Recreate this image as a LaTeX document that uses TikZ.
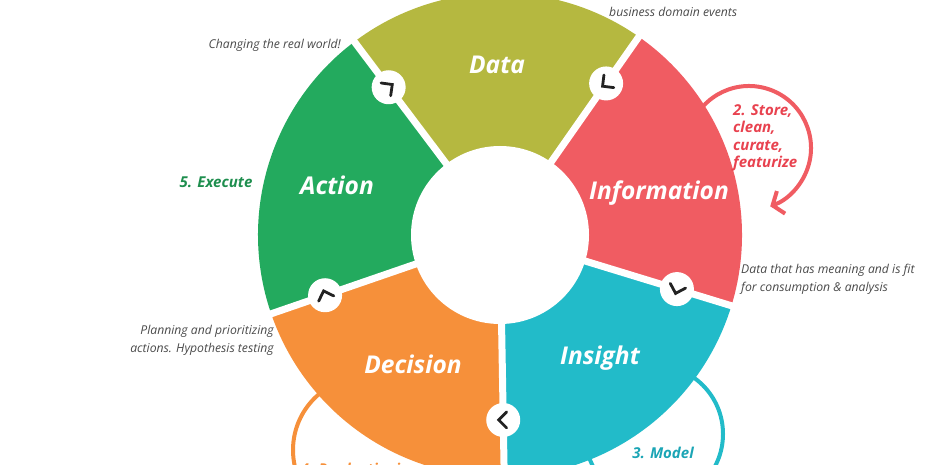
\documentclass[tikz,border=0pt]{standalone}
\usepackage{fontspec}
\setmainfont{Open Sans}
\usetikzlibrary{arrows.meta,calc}
\definecolor{cData}{HTML}{B5B840}
\definecolor{cInfo}{HTML}{F05C62}
\definecolor{cIns}{HTML}{22BBC9}
\definecolor{cDec}{HTML}{F6903A}
\definecolor{cAct}{HTML}{23AA5E}
\definecolor{cExec}{HTML}{1E8E4E}
\definecolor{cRed}{HTML}{E8424F}
\definecolor{cTeal}{HTML}{1BA5B5}
\definecolor{cGray}{HTML}{4A4A4A}
\definecolor{cChev}{HTML}{222222}
\tikzset{
  seglabel/.style={text=white,font=\fontsize{24.5}{28}\selectfont\bfseries\itshape},
  note/.style={text=cGray,font=\fontsize{12.2}{18}\selectfont\itshape,inner sep=0pt},
  steplabel/.style={font=\fontsize{15}{17.5}\selectfont\bfseries\itshape,inner sep=0pt},
  loopline/.style={line width=4pt},
  badge/.style={circle,fill=white,minimum size=34pt,inner sep=0pt},
  chev/.style={draw=cChev,line width=2.8pt,line cap=round,line join=miter}
}
\newcommand{\chevron}[2]{% #1 position angle, #2 pointing direction
  \begin{scope}[shift={($(C)+(#1:185)$)},rotate=#2]
    \draw[chev] (-3.5,8) -- (4.5,0) -- (-3.5,-8);
  \end{scope}}
\begin{document}
\begin{tikzpicture}[x=1pt,y=1pt]
\useasboundingbox (0,0) rectangle (931,-465);
\coordinate (C) at (500,-235);
% loops (behind segments)
\draw[loopline,cIns] (654,-434) circle[radius=69];
\draw[loopline,cDec] (366,-450) circle[radius=73];
\draw[loopline,cInfo,-{Straight Barb[length=9pt,width=24pt]}] (749,-148) ++(160:62) arc[start angle=160,end angle=-70,radius=62];
% segments
\fill[cData] (C) -- ++(55:242) arc[start angle=55,end angle=127,radius=242] -- cycle;
\fill[cInfo] (C) -- ++(-17:242) arc[start angle=-17,end angle=55,radius=242] -- cycle;
\fill[cIns] (C) -- ++(-89:242) arc[start angle=-89,end angle=-17,radius=242] -- cycle;
\fill[cDec] (C) -- ++(-161:242) arc[start angle=-161,end angle=-89,radius=242] -- cycle;
\fill[cAct] (C) -- ++(127:242) arc[start angle=127,end angle=199,radius=242] -- cycle;
% gaps
\foreach \a in {55,127,-17,-89,199}{
  \draw[white,line width=7pt] (C) -- ++(\a:250);
}
\fill[white] (C) circle[radius=89];
% badges
\foreach \a in {55,127,-17,-89,199}{
  \node[badge] at ($(C)+(\a:185)$) {};
}
\chevron{55}{218}
\chevron{127}{37}
\chevron{-17}{-107}
\chevron{-89}{180}
\chevron{199}{109}
% labels
\node[seglabel] (data) at (497,-65) {Data};
\node[seglabel] (info) at (659,-193) {Information};
\node[seglabel] (ins) at (600,-358) {Insight};
\node[seglabel] (dec) at (413,-364) {Decision};
\node[seglabel] (act) at (337,-185) {Action};
% notes
\node[note,anchor=east] (n1) at (341,-45) {Changing the real world!};
\node[note,anchor=west] (n2) at (609,-12) {business domain events};
\node[note,anchor=west,align=left] (n3) at (741,-279) {Data that has meaning and is fit\\for consumption \& analysis};
\node[note,anchor=east,align=right] (n4) at (274,-340) {Planning and prioritizing\\actions. Hypothesis testing};
% step labels
\node[steplabel,text=cExec] (s5) at (216,-182) {5. Execute};
\node[steplabel,text=cRed,anchor=west,align=left] (s2) at (733,-138) {2. Store,\\clean,\\curate,\\featurize};
\node[steplabel,text=cTeal] (s3) at (663,-453) {3. Model};
\node[steplabel,text=cDec] (s4) at (358,-469) {4. Productionize};
\end{tikzpicture}
\end{document}
